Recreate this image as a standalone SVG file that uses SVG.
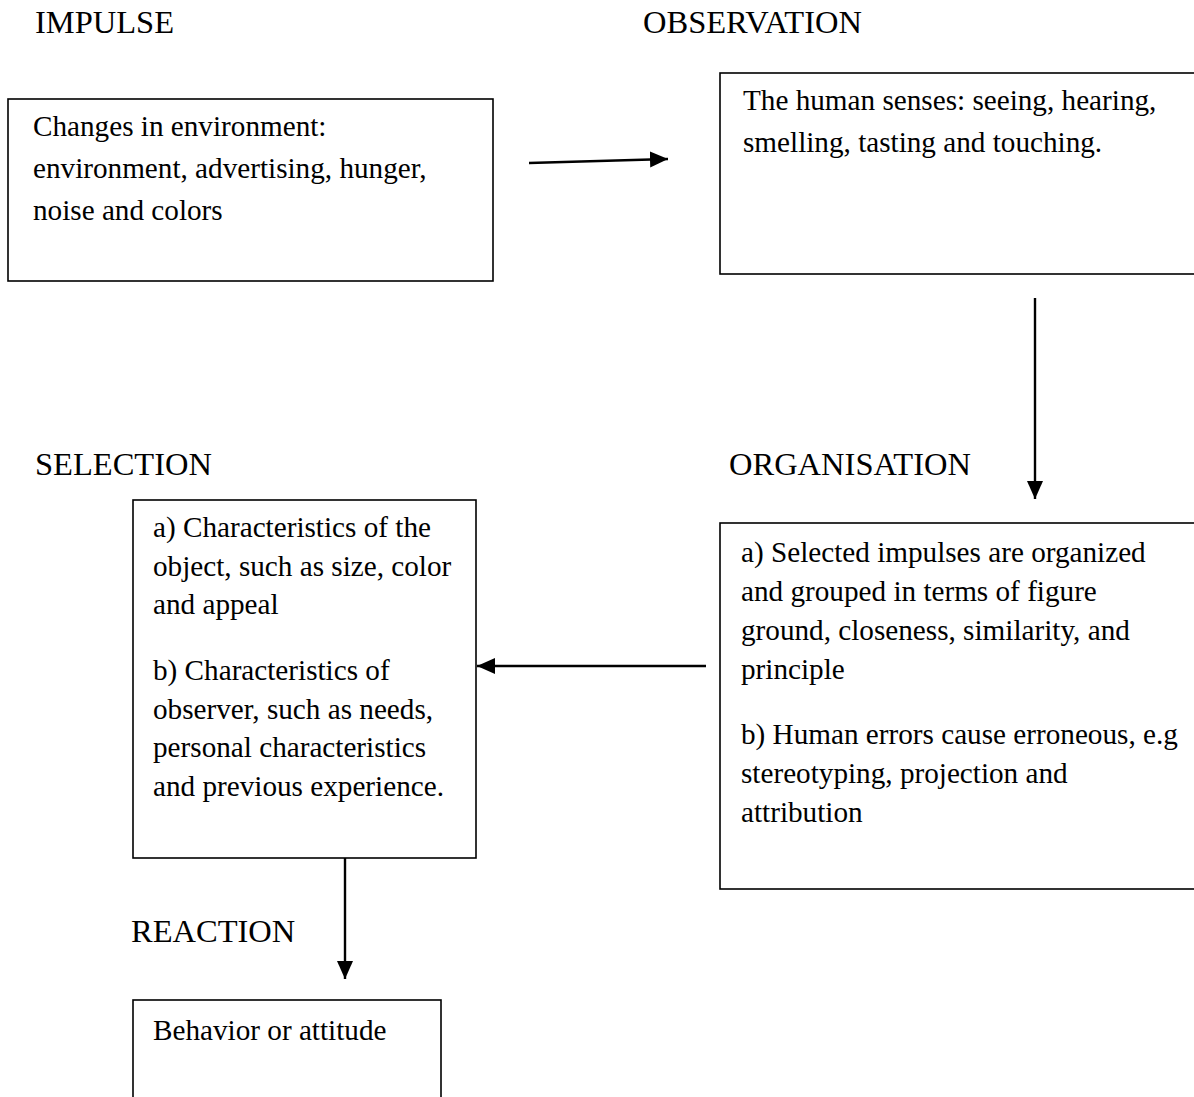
<svg xmlns="http://www.w3.org/2000/svg" width="1194" height="1097" viewBox="0 0 1194 1097">
<style>
.box{fill:#fff;stroke:#000;stroke-width:1.6}
.hd{font-family:"Liberation Serif","Times New Roman",serif;font-size:32.5px;fill:#000}
.tx{font-family:"Liberation Serif","Times New Roman",serif;font-size:29.2px;fill:#000}
.cn{stroke:#000;stroke-width:2.4;fill:none}
</style>
<defs>
<marker id="ah" markerUnits="userSpaceOnUse" markerWidth="20" markerHeight="18" refX="18" refY="9" orient="auto">
<path d="M0,1 L18,9 L0,17 Z" fill="#000"/>
</marker>
</defs>
<rect width="1194" height="1097" fill="#fff"/>
<text class="hd" x="35" y="33">IMPULSE</text>
<text class="hd" x="643" y="33">OBSERVATION</text>
<text class="hd" x="35" y="475">SELECTION</text>
<text class="hd" x="729" y="475">ORGANISATION</text>
<text class="hd" x="131" y="942">REACTION</text>
<g id="impulse">
<rect class="box" x="8" y="99" width="485" height="182"/>
<text class="tx" x="33" y="136">Changes in environment:</text>
<text class="tx" x="33" y="178">environment, advertising, hunger,</text>
<text class="tx" x="33" y="220">noise and colors</text>
</g>
<g id="observation">
<rect class="box" x="720" y="73" width="480" height="201"/>
<text class="tx" x="743" y="110">The human senses: seeing, hearing,</text>
<text class="tx" x="743" y="152">smelling, tasting and touching.</text>
</g>
<g id="organisation">
<rect class="box" x="720" y="523" width="480" height="366"/>
<text class="tx" x="741" y="562">a) Selected impulses are organized</text>
<text class="tx" x="741" y="601">and grouped in terms of figure</text>
<text class="tx" x="741" y="640">ground, closeness, similarity, and</text>
<text class="tx" x="741" y="679">principle</text>
<text class="tx" x="741" y="744">b) Human errors cause erroneous, e.g</text>
<text class="tx" x="741" y="783">stereotyping, projection and</text>
<text class="tx" x="741" y="822">attribution</text>
</g>
<g id="selection">
<rect class="box" x="133" y="500" width="343" height="358"/>
<text class="tx" x="153" y="537">a) Characteristics of the</text>
<text class="tx" x="153" y="576">object, such as size, color</text>
<text class="tx" x="153" y="614">and appeal</text>
<text class="tx" x="153" y="680">b) Characteristics of</text>
<text class="tx" x="153" y="719">observer, such as needs,</text>
<text class="tx" x="153" y="757">personal characteristics</text>
<text class="tx" x="153" y="796">and previous experience.</text>
</g>
<g id="reaction">
<rect class="box" x="133" y="1000" width="308" height="110"/>
<text class="tx" x="153" y="1040">Behavior or attitude</text>
</g>
<g id="connectors">
<line class="cn" x1="529" y1="163" x2="668" y2="159" marker-end="url(#ah)"/>
<line class="cn" x1="1035" y1="298" x2="1035" y2="499" marker-end="url(#ah)"/>
<line class="cn" x1="706" y1="666" x2="477" y2="666" marker-end="url(#ah)"/>
<line class="cn" x1="345" y1="858" x2="345" y2="979" marker-end="url(#ah)"/>
</g>
</svg>
